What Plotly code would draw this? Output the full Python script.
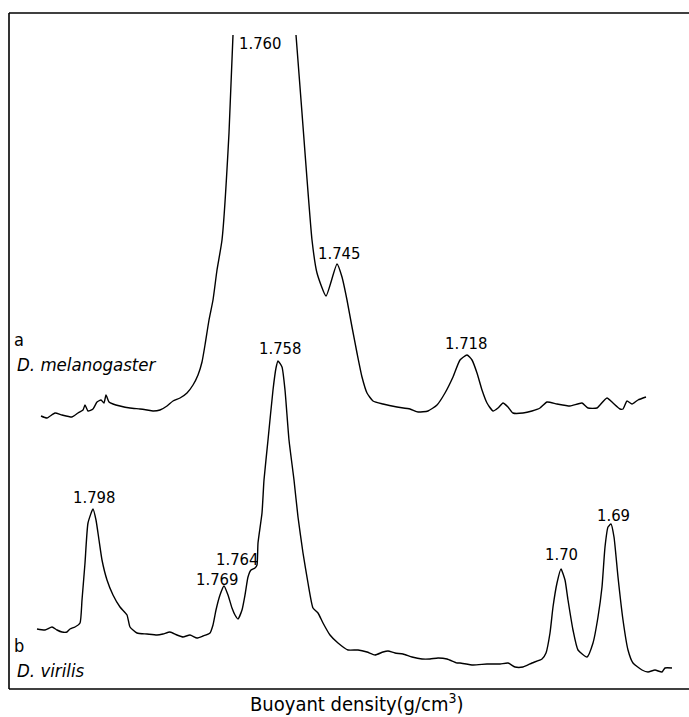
import plotly.graph_objects as go

# Chart-recorder coordinates (position along gradient, pen level; level axis runs downward)
scan_a_pos = [41, 47, 55, 62, 72, 78, 83, 85, 88, 93, 97, 101, 104, 106, 109, 113, 120, 130, 140, 147, 153, 160,
              167, 173, 180, 187, 193, 198, 202, 205, 209, 213, 217, 222, 229, 233, None,
              296, 302, 312, 317, 326, 337, 342, 347, 352, 357, 362, 367, 373, 383, 397, 410, 418, 428, 437,
              445, 453, 460, 467, 472, 477, 482, 487, 493, 498, 503, 508, 513, 523, 532, 540, 547, 557, 570,
              582, 588, 597, 600, 607, 613, 620, 623, 627, 632, 638, 646]
scan_a_level = [416, 418, 413, 415, 417, 413, 410, 405, 411, 409, 402, 400, 403, 395, 402, 404, 406, 408, 409, 410, 411, 410,
                406, 401, 398, 393, 385, 375, 362, 345, 320, 300, 270, 240, 133, 35, None,
                35, 113, 240, 273, 296, 264, 277, 300, 327, 353, 377, 393, 401, 404, 407, 409, 412, 411, 405,
                393, 377, 360, 355, 360, 373, 390, 403, 411, 408, 403, 407, 413, 413, 411, 408, 402, 404, 406,
                403, 408, 408, 405, 398, 403, 409, 409, 401, 404, 400, 397]

scan_b_pos = [37, 45, 52, 57, 62, 67, 70, 75, 80, 82, 85, 88, 93, 96, 99, 102, 107, 113, 120, 127, 130, 137,
              147, 157, 163, 170, 177, 183, 190, 197, 203, 210, 213, 216, 220, 224, 228, 232, 235, 238, 242,
              245, 248, 251, 255, 257, 258, 262, 264, 268, 273, 276, 278, 282, 285, 289, 294, 298, 303, 308,
              313, 318, 323, 330, 338, 348, 358, 367, 375, 383, 388, 395, 403, 412, 422, 430, 438, 447, 457,
              460, 473, 487, 500, 508, 515, 523, 532, 542, 546, 550, 553, 557, 561, 565, 568, 573, 578, 587,
              593, 598, 602, 605, 608, 611, 614, 618, 623, 628, 633, 642, 648, 655, 662, 665, 672]
scan_b_level = [629, 630, 627, 630, 632, 632, 629, 627, 623, 600, 563, 523, 509, 520, 540, 560, 580, 595, 607, 615, 627, 633,
                634, 635, 634, 632, 635, 637, 635, 638, 636, 633, 625, 610, 595, 586, 595, 608, 615, 619, 610,
                595, 577, 570, 568, 565, 543, 513, 480, 440, 390, 368, 361, 367, 390, 440, 480, 517, 553, 583,
                608, 613, 623, 635, 643, 650, 650, 652, 655, 652, 651, 653, 654, 657, 659, 659, 658, 659, 663,
                663, 665, 664, 664, 663, 667, 667, 663, 659, 653, 633, 607, 583, 569, 580, 600, 630, 650, 657,
                643, 617, 587, 547, 527, 524, 537, 577, 620, 650, 663, 670, 672, 670, 672, 668, 668]

peak_labels = ["1.760", "1.745", "1.718", "1.758", "1.798", "1.769", "1.764", "1.70", "1.69"]
peak_label_pos = [260, 339, 466, 280, 94, 217, 237, 561, 613]
peak_label_level = [43, 253, 343, 348, 497, 579, 559, 554, 515]

trace_tags = ["a", "b"]
species = ["D. melanogaster", "D. virilis"]
tag_level = [339, 645]
species_level = [364, 670]
x_title = "Buoyant density(g/cm<sup>3</sup>)"

FONT = "DejaVu Sans Condensed, DejaVu Sans, sans-serif"

fig = go.Figure()
for xs, ys in [(scan_a_pos, scan_a_level), (scan_b_pos, scan_b_level)]:
    fig.add_trace(go.Scatter(x=xs, y=ys, mode="lines",
                             line=dict(color="black", width=1.4, shape="spline", smoothing=0.5),
                             connectgaps=False, hoverinfo="skip", showlegend=False))

for t, px, py in zip(peak_labels, peak_label_pos, peak_label_level):
    fig.add_annotation(x=px, y=py, text=t, showarrow=False, xanchor="center", yanchor="middle",
                       font=dict(family=FONT, size=16.5, color="black"))

for t, s, ty, sy in zip(trace_tags, species, tag_level, species_level):
    fig.add_annotation(x=12, y=ty, text=t, showarrow=False, xanchor="left", yanchor="middle",
                       font=dict(family=FONT, size=18, color="black"))
    fig.add_annotation(x=15, y=sy, text="<i>" + s + "</i>", showarrow=False, xanchor="left", yanchor="middle",
                       font=dict(family=FONT, size=18.5, color="black"))

fig.add_annotation(x=357, y=703, text=x_title, showarrow=False, xanchor="center", yanchor="middle",
                   borderpad=0, font=dict(family=FONT, size=20, color="black"))

# frame (open on the right, as in the original plate)
frame = dict(type="line", xref="x", yref="y", line=dict(color="black", width=1.6))
fig.add_shape(**frame, x0=9, x1=9, y0=13, y1=689)
fig.add_shape(**frame, x0=9, x1=689, y0=13, y1=13)
fig.add_shape(**frame, x0=9, x1=689, y0=689, y1=689)

fig.update_layout(
    width=689, height=717,
    margin=dict(l=0, r=0, t=0, b=0),
    paper_bgcolor="white", plot_bgcolor="white",
    xaxis=dict(range=[0, 689], visible=False, fixedrange=True),
    yaxis=dict(range=[717, 0], visible=False, fixedrange=True),
)

fig.write_html("out.html", config={"displayModeBar": False},
               post_script="document.body.style.margin='0';document.body.style.overflow='hidden';")
